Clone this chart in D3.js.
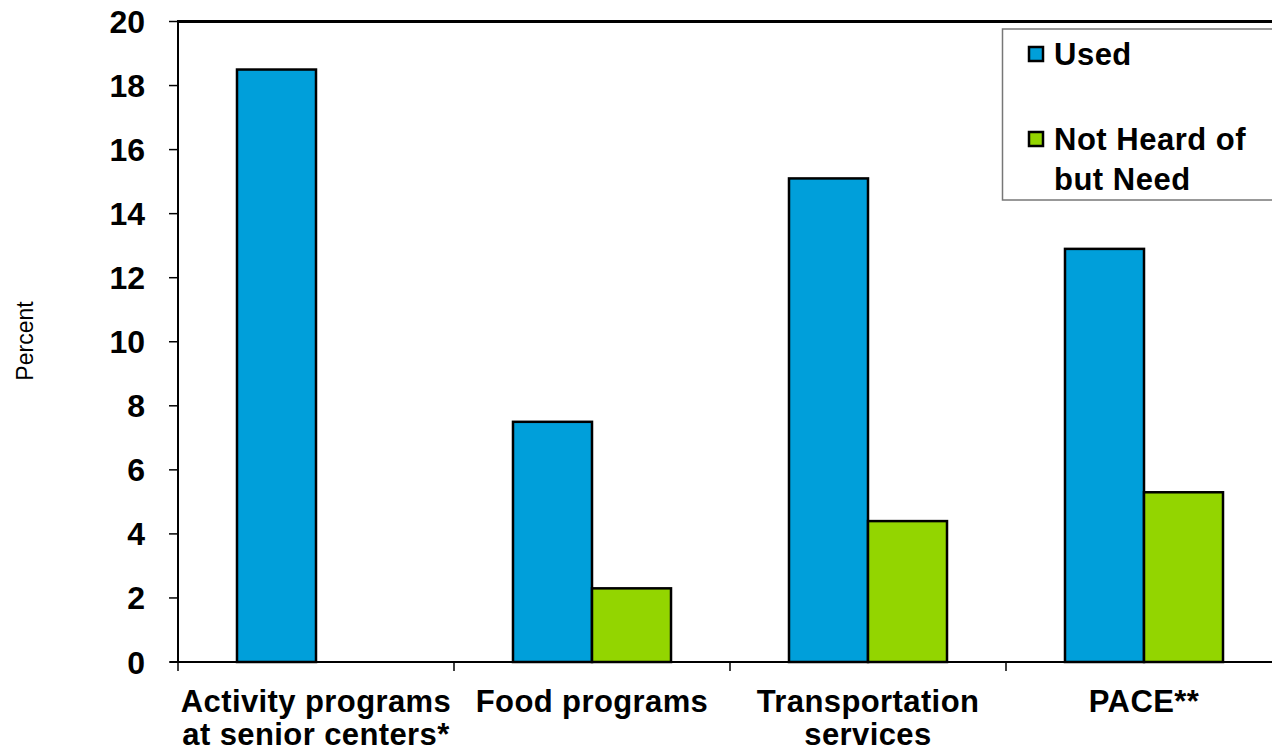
<!DOCTYPE html>
<html>
<head>
<meta charset="utf-8">
<script src="https://cdn.jsdelivr.net/npm/d3@7"></script>
<style>
  html, body { margin: 0; padding: 0; background: #fff; }
  svg { display: block; font-family: Arial, "Liberation Sans", sans-serif; }
</style>
</head>
<body>
<svg id="chart" width="1272" height="752"></svg>
<script>
const categories = [
  ["Activity programs", "at senior centers*"],
  ["Food programs"],
  ["Transportation", "services"],
  ["PACE**"]
];
const seriesNames = ["Used", "Not Heard of but Need"];
const usedValues = [18.5, 7.5, 15.1, 12.9];
const notHeardValues = [null, 2.3, 4.4, 5.3];
const yTicks = [0, 2, 4, 6, 8, 10, 12, 14, 16, 18, 20];
const colors = ["#009FDA", "#93D500"];

const svg = d3.select("#chart");
const plotLeft = 178, plotRight = 1282, plotTop = 21.5, plotBottom = 662;

const x0 = d3.scaleBand()
  .domain(d3.range(categories.length))
  .range([plotLeft, plotRight])
  .paddingInner(0.4275)
  .paddingOuter(0.21375);
const x1 = d3.scaleBand().domain([0, 1]).range([0, x0.bandwidth()]);
const y = d3.scaleLinear().domain([0, 20]).range([plotBottom, plotTop]);

const series = [usedValues, notHeardValues];

// bars
const g = svg.append("g");
series.forEach((vals, si) => {
  g.selectAll(".bar" + si)
    .data(vals.map((v, i) => ({ v, i })).filter(d => d.v != null))
    .enter().append("rect")
    .attr("x", d => x0(d.i) + x1(si))
    .attr("width", x1.bandwidth())
    .attr("y", d => y(d.v))
    .attr("height", d => y(0) - y(d.v))
    .attr("fill", colors[si])
    .attr("stroke", "#000")
    .attr("stroke-width", 2.5);
});

// axes frame
svg.append("line").attr("x1", plotLeft).attr("x2", 1272).attr("y1", plotTop).attr("y2", plotTop)
  .attr("stroke", "#000").attr("stroke-width", 3);
svg.append("line").attr("x1", plotLeft).attr("x2", plotLeft).attr("y1", plotTop - 1.5).attr("y2", plotBottom)
  .attr("stroke", "#000").attr("stroke-width", 2);
svg.append("line").attr("x1", plotLeft - 8).attr("x2", 1272).attr("y1", plotBottom).attr("y2", plotBottom)
  .attr("stroke", "#000").attr("stroke-width", 2);

// y ticks
const yAxis = svg.append("g");
yTicks.forEach(t => {
  yAxis.append("line").attr("x1", plotLeft - 9).attr("x2", plotLeft).attr("y1", y(t)).attr("y2", y(t))
    .attr("stroke", "#000").attr("stroke-width", 1.5);
  yAxis.append("text").attr("x", 145).attr("y", y(t)).attr("dy", "0.36em")
    .attr("text-anchor", "end").attr("font-size", 32).attr("font-weight", "bold")
    .text(t);
});

// x ticks at band boundaries
const step = x0.step();
d3.range(categories.length + 1).forEach(i => {
  const xx = plotLeft + i * step;
  svg.append("line").attr("x1", xx).attr("x2", xx).attr("y1", plotBottom).attr("y2", plotBottom + 9)
    .attr("stroke", "#000").attr("stroke-width", 1.5);
});

// category labels
categories.forEach((lines, i) => {
  const cx = x0(i) + x0.bandwidth() / 2;
  const t = svg.append("text").attr("text-anchor", "middle")
    .attr("font-size", 31).attr("font-weight", "bold").attr("letter-spacing", "0.4px");
  lines.forEach((ln, k) => {
    t.append("tspan").attr("x", cx).attr("y", 712 + k * 33).text(ln);
  });
});

// y label
svg.append("text").attr("transform", "translate(33,341) rotate(-90)")
  .attr("text-anchor", "middle").attr("font-size", 23).text("Percent");

// legend
const lg = svg.append("g");
lg.append("rect").attr("x", 1002.5).attr("y", 29).attr("width", 300).attr("height", 171)
  .attr("fill", "#fff").attr("stroke", "#777").attr("stroke-width", 1.5);
const legendLines = [["Used"], ["Not Heard of", "but Need"]];
const legendBase = [65, 150];
legendLines.forEach((lines, si) => {
  lg.append("rect").attr("x", 1029).attr("y", legendBase[si] - 18).attr("width", 14).attr("height", 14)
    .attr("fill", colors[si]).attr("stroke", "#000").attr("stroke-width", 2.5);
  const t = lg.append("text").attr("font-size", 31).attr("font-weight", "bold").attr("letter-spacing", "0.5px");
  lines.forEach((ln, k) => {
    t.append("tspan").attr("x", 1054).attr("y", legendBase[si] + k * 40).text(ln);
  });
});
</script>
</body>
</html>
